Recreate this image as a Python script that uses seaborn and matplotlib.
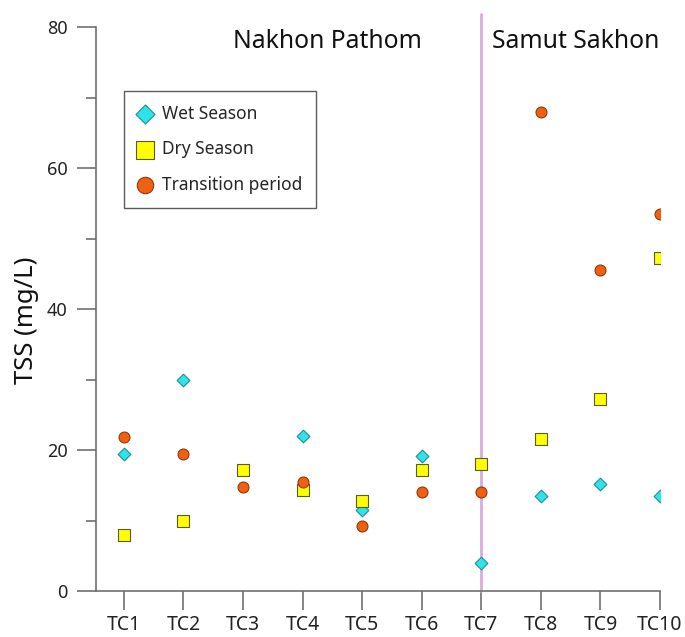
import matplotlib
matplotlib.use("Agg")
import matplotlib.pyplot as plt
import seaborn as sns
import numpy as np
import pandas as pd

# Sampling stations and TSS readings (mg/L) per season
stations = ["TC1", "TC2", "TC3", "TC4", "TC5", "TC6", "TC7", "TC8", "TC9", "TC10"]
wet_season = [19.5, 30.0, np.nan, 22.0, 11.5, 19.2, 4.0, 13.5, 15.2, 13.5]
dry_season = [7.9, 10.0, 17.2, 14.3, 12.7, 17.2, 18.0, 21.6, 27.2, 47.2]
transition = [21.9, 19.5, 14.8, 15.5, 9.2, 14.0, 14.0, 67.9, 45.5, 53.5]

region_labels = ["Nakhon Pathom", "Samut Sakhon"]
boundary_station = "TC7"

sns.set_theme(style="white")
plt.rcParams["font.family"] = ["Noto Sans", "DejaVu Sans"]

pos = np.arange(1, len(stations) + 1)
df = pd.DataFrame({"pos": pos, "wet": wet_season, "dry": dry_season, "trans": transition})

fig = plt.figure(figsize=(6.85, 6.37), dpi=100)
ax = fig.add_axes([0.140, 0.0722, 0.8235, 0.8854])

sns.scatterplot(data=df, x="pos", y="wet", marker="D", s=42, color="#2fe3ea",
                edgecolor="#1f8f96", linewidth=0.8, label="Wet Season", ax=ax, zorder=3)
sns.scatterplot(data=df, x="pos", y="dry", marker="s", s=78, color="#ffff00",
                edgecolor="#5b5b30", linewidth=0.8, label="Dry Season", ax=ax, zorder=3)
sns.scatterplot(data=df, x="pos", y="trans", marker="o", s=62, color="#f0600e",
                edgecolor="#8a3a10", linewidth=0.8, label="Transition period", ax=ax, zorder=3)

# boundary between the two provinces
bx = stations.index(boundary_station) + 1
ax.plot([bx, bx], [0, 81.8], color="#dcaade", lw=2, clip_on=False, zorder=1)

ax.set_xlim(0.53, 10.0)
ax.set_ylim(0, 80)
ax.set_xticks(pos)
ax.set_xticklabels(stations)
ax.set_yticks([0, 20, 40, 60, 80])
ax.set_yticks([10, 30, 50, 70], minor=True)
ax.set_xlabel("")
ax.set_ylabel("TSS (mg/L)", fontsize=18.5, color="#111111")
ax.yaxis.set_label_coords(-0.10, 0.48)

for side in ["top", "right"]:
    ax.spines[side].set_visible(False)
for side in ["left", "bottom"]:
    ax.spines[side].set_color("#707070")
    ax.spines[side].set_linewidth(1.2)

ax.tick_params(axis="both", which="major", direction="out", length=13.5, width=1.2,
               color="#707070", labelsize=13, labelcolor="#222222", pad=7, left=True, bottom=True)
ax.tick_params(axis="x", which="major", labelsize=14, pad=4)
ax.tick_params(axis="y", which="minor", direction="out", length=7, width=1.2,
               color="#707070", left=True)

ax.text(4.415, 77.9, region_labels[0], fontsize=17.8, ha="center", va="center", color="#111111")
ax.text(8.59, 77.9, region_labels[1], fontsize=17.8, ha="center", va="center", color="#111111")

leg = ax.legend(loc="upper left", bbox_to_anchor=(0.0496, 0.8865), borderaxespad=0,
                frameon=True, fancybox=False, fontsize=12.5, handletextpad=0.6,
                borderpad=0.8, labelspacing=1.0, handlelength=0.8, markerscale=1.5)
leg.get_frame().set_edgecolor("#333333")
leg.get_frame().set_linewidth(1.0)

fig.savefig("out.png", dpi=100)
